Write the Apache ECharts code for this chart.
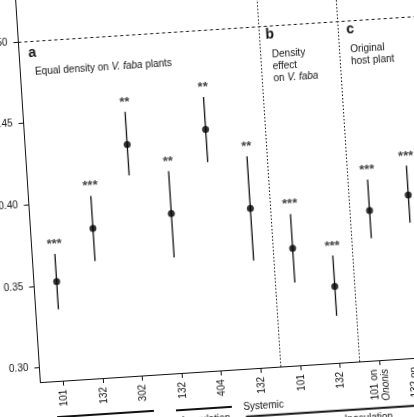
<!DOCTYPE html>
<html>
<head>
<meta charset="utf-8">
<script src="https://cdn.jsdelivr.net/npm/echarts@6/dist/echarts.min.js"></script>
<style>
html,body{margin:0;padding:0;background:#fff;overflow:hidden;width:414px;height:417px;}
#wrap{position:absolute;left:0;top:0;width:414px;height:417px;overflow:hidden;background:#fff;}
#chart{position:absolute;left:-60px;top:-80px;width:560px;height:580px;transform-origin:267px 288.5px;transform:rotate(-3.7deg);}
</style>
</head>
<body>
<div id="wrap"><div id="chart"></div></div>
<script>
// ---- data ----
const categories = ['101', '132', '302', '132', '404', '132', '101', '132', '101 on\nOnonis', '132 on\nOnonis'];
const means = [0.352, 0.383, 0.433, 0.389, 0.439, 0.389, 0.363, 0.338, 0.383, 0.391];
const lower = [0.335, 0.363, 0.414, 0.362, 0.419, 0.357, 0.342, 0.320, 0.366, 0.374];
const upper = [0.369, 0.403, 0.453, 0.415, 0.459, 0.421, 0.384, 0.357, 0.402, 0.409];
const stars = ['***', '***', '**', '**', '**', '**', '***', '***', '***', '***'];
const yTicks = [0.30, 0.35, 0.40, 0.45, 0.50];
const panelBoundaries = [5.5, 7.5];
const refLine = 0.50;

const FONT = '"Liberation Sans", Arial, sans-serif';
const INK = '#111';
const idx = categories.map((_, i) => i);

const chart = echarts.init(document.getElementById('chart'), null, {renderer: 'canvas'});

const option = {
  animation: false,
  backgroundColor: 'transparent',
  grid: {left: 89.5, top: 12, width: 418.8, height: 439},
  xAxis: {
    type: 'value', min: -0.575, max: 10,
    axisLine: {show: true, onZero: false, lineStyle: {color: INK, width: 1}},
    axisTick: {show: true, customValues: idx, length: 5, lineStyle: {color: INK, width: 1}},
    axisLabel: {
      customValues: idx, rotate: 90, margin: 9, fontSize: 10, fontFamily: FONT, color: INK, lineHeight: 11,
      formatter: v => { const s = categories[Math.round(v)]; return s ? s.replace('Ononis', '{i|Ononis}') : ''; },
      rich: {i: {fontStyle: 'italic', fontSize: 10, fontFamily: FONT, color: INK, lineHeight: 11}}
    },
    splitLine: {show: false}
  },
  yAxis: {
    type: 'value', min: 0.29118, max: 0.56,
    axisLine: {show: true, onZero: false, lineStyle: {color: INK, width: 1}},
    axisTick: {show: true, customValues: yTicks, length: 5, lineStyle: {color: INK, width: 1}},
    axisLabel: {customValues: yTicks, margin: 11, fontSize: 10, fontFamily: FONT, color: INK,
      formatter: v => v.toFixed(2)},
    splitLine: {show: false}
  },
  series: [
    {
      type: 'custom',
      encode: {x: 0, y: [1, 2]},
      data: idx.map(i => [i, lower[i], upper[i]]),
      renderItem: (params, api) => {
        const x = api.value(0);
        const a = api.coord([x, api.value(1)]);
        const b = api.coord([x, api.value(2)]);
        return {type: 'line', shape: {x1: a[0], y1: a[1], x2: b[0], y2: b[1]},
          style: {stroke: INK, lineWidth: 1.3}};
      },
      markLine: {
        silent: true, symbol: 'none', label: {show: false},
        data: [
          {yAxis: refLine, lineStyle: {color: INK, width: 1, type: [3, 3]}},
          ...panelBoundaries.map(b => ({xAxis: b, lineStyle: {color: INK, width: 1, type: [1.5, 2]}}))
        ]
      }
    },
    {
      type: 'scatter', symbol: 'circle', symbolSize: 7,
      itemStyle: {color: '#000'},
      data: idx.map(i => [i, means[i]])
    },
    {
      type: 'scatter', symbol: 'circle', symbolSize: 0.1,
      itemStyle: {color: 'rgba(0,0,0,0)'},
      label: {show: true, position: 'top', distance: 3, fontSize: 13, fontWeight: 'bold', fontFamily: FONT, color: INK,
        formatter: p => stars[p.dataIndex]},
      data: idx.map(i => [i, upper[i]])
    }
  ],
  graphic: [
    {type: 'text', x: 98.7, y: 121.7, style: {text: 'a', font: 'bold 14px ' + FONT, fill: INK, verticalAlign: 'middle'}},
    {type: 'text', x: 104.2, y: 141.2, style: {text: 'Equal density on {i|V. faba} plants', font: '10px ' + FONT, fill: INK, verticalAlign: 'middle',
      rich: {i: {font: 'italic 10px ' + FONT, fill: INK}}}},
    {type: 'text', x: 336.4, y: 119.2, style: {text: 'b', font: 'bold 14px ' + FONT, fill: INK, verticalAlign: 'middle'}},
    {type: 'text', x: 341.8, y: 133.5, style: {text: 'Density\neffect\non {i|V. faba}', font: '10px ' + FONT, fill: INK, verticalAlign: 'top', lineHeight: 12,
      rich: {i: {font: 'italic 10px ' + FONT, fill: INK, lineHeight: 12}}}},
    {type: 'text', x: 417.5, y: 119.4, style: {text: 'c', font: 'bold 14px ' + FONT, fill: INK, verticalAlign: 'middle'}},
    {type: 'text', x: 420.2, y: 133.5, style: {text: 'Original\nhost plant', font: '10px ' + FONT, fill: INK, verticalAlign: 'top', lineHeight: 11.5}},
    {type: 'line', shape: {x1: 104, y1: 487, x2: 201, y2: 487}, style: {stroke: INK, lineWidth: 2}},
    {type: 'line', shape: {x1: 223, y1: 488, x2: 279, y2: 488}, style: {stroke: INK, lineWidth: 2}},
    {type: 'text', x: 310.7, y: 488.9, style: {text: 'Systemic', font: '10px ' + FONT, fill: INK, align: 'center', verticalAlign: 'middle'}},
    {type: 'line', shape: {x1: 292.5, y1: 498.8, x2: 560, y2: 498.8}, style: {stroke: INK, lineWidth: 2}},
    {type: 'text', x: 252.6, y: 499.5, style: {text: 'Inoculation', font: '10px ' + FONT, fill: INK, align: 'center', verticalAlign: 'middle'}},
    {type: 'text', x: 415, y: 508, style: {text: 'Inoculation', font: '10px ' + FONT, fill: INK, align: 'center', verticalAlign: 'middle'}}
  ]
};
chart.setOption(option);
</script>
</body>
</html>
